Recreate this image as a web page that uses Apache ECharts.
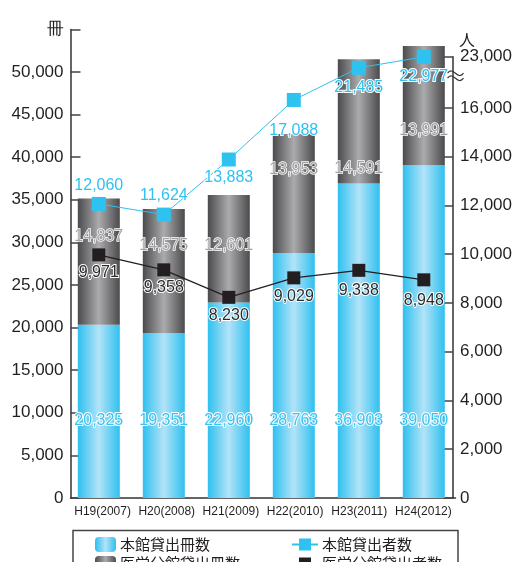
<!DOCTYPE html>
<html>
<head>
<meta charset="utf-8">
<script src="https://cdn.jsdelivr.net/npm/echarts@6/dist/echarts.min.js"></script>
<style>
  html, body { margin: 0; padding: 0; background: #fff; }
  #chart { width: 515px; height: 562px; }
</style>
</head>
<body>
<div id="chart"></div>
<script>
// Fiscal years
const categories = ['H19(2007)', 'H20(2008)', 'H21(2009)', 'H22(2010)', 'H23(2011)', 'H24(2012)'];

// Loans (冊) — stacked bars, left axis
const mainLoans = [20325, 19351, 22960, 28763, 36903, 39050];
const medicalLoans = [14837, 14575, 12601, 13953, 14591, 13991];

// Borrowers (人) — lines, right axis
const mainBorrowers = [12060, 11624, 13883, 17088, 21485, 22977];
const medicalBorrowers = [9971, 9358, 8230, 9029, 9338, 8948];

// Right axis tick labels (axis is broken above 16,000)
const rightTickValues = [0, 2000, 4000, 6000, 8000, 10000, 12000, 14000, 16000, 23000];

// Broken right axis: linear up to BREAK_AT, compressed above it
const BREAK_AT = 16000;
const SQUEEZE = 0.3;
const toAxis = v => v <= BREAK_AT ? v : BREAK_AT + (v - BREAK_AT) * SQUEEZE;
const fromAxis = a => a <= BREAK_AT ? a : Math.round(BREAK_AT + (a - BREAK_AT) / SQUEEZE);
const fmt = v => Math.round(v).toLocaleString('en-US');

// Label nudges (px) so labels clear the lines and markers
const medicalLoanLabelShift = [-25, -25, -3, -24, 47, 25];
const mainBorrowerLabelShift = [-18, -19, 18, 31, 20, 20];
const medicalBorrowerLabelShift = [18, 18, 18, 19, 20, 21];

const W = 515;
const axisLeft = 70.5, axisRight = 59.5;      // visible axes
const plotLeft = 66.3, plotRight = 58.7;      // where the marks sit
const topLeft = 29.4, topRight = 56.7, bottom = 64;

const TEXT = '#231f20';
const NUM_FONT = 'Liberation Sans, Arial, sans-serif';
const JP_FONT = 'Noto Sans CJK JP, sans-serif';

const blueGrad = new echarts.graphic.LinearGradient(0, 0, 1, 0, [
  { offset: 0, color: '#2fc0ef' },
  { offset: 0.5, color: '#b2e3f8' },
  { offset: 1, color: '#2fc0ef' }
]);
const grayGrad = new echarts.graphic.LinearGradient(0, 0, 1, 0, [
  { offset: 0, color: '#4b4b4d' },
  { offset: 0.5, color: '#ababad' },
  { offset: 1, color: '#4b4b4d' }
]);

const axisLineStyle = { color: '#333', width: 1.5 };
const tickStyle = { color: '#444', width: 1.5 };

// One legend per entry, laid out as a 2 x 2 table
const legendEntry = (name, left, top, iconW) => ({
  left: left, top: top, itemWidth: iconW, itemHeight: 15,
  data: [name],
  textStyle: { color: TEXT, fontFamily: JP_FONT, fontSize: 15, padding: [0, 0, 0, -1] }
});

const chart = echarts.init(document.getElementById('chart'), null, { renderer: 'canvas' });

const option = {
  animation: false,
  backgroundColor: '#fff',
  grid: [
    { left: axisLeft, right: axisRight, top: topLeft, bottom: bottom },
    { left: axisLeft, right: axisRight, top: topRight, bottom: bottom },
    { left: plotLeft, right: plotRight, top: topLeft, bottom: bottom },
    { left: plotLeft, right: plotRight, top: topRight, bottom: bottom }
  ],
  xAxis: [
    {
      gridIndex: 0, type: 'category', data: categories, boundaryGap: true,
      axisLine: { lineStyle: axisLineStyle },
      axisTick: { inside: true, length: 8, lineStyle: tickStyle, interval: 0 },
      axisLabel: { color: TEXT, fontFamily: NUM_FONT, fontSize: 12, margin: 8, interval: 0 }
    },
    { gridIndex: 1, type: 'category', data: categories, show: false },
    { gridIndex: 2, type: 'category', data: categories, show: false },
    { gridIndex: 3, type: 'category', data: categories, show: false }
  ],
  yAxis: [
    {
      gridIndex: 0, type: 'value', min: 0, max: 55000, interval: 5000,
      axisLine: { show: true, lineStyle: axisLineStyle },
      axisTick: { show: true, inside: true, length: 10, lineStyle: tickStyle },
      splitLine: { show: false },
      axisLabel: {
        color: TEXT, fontFamily: NUM_FONT, fontSize: 17, margin: 7,
        formatter: v => v === 55000 ? '冊' : fmt(v)
      }
    },
    {
      gridIndex: 1, type: 'value', position: 'right', min: 0, max: toAxis(23000),
      name: '人', nameLocation: 'end', nameGap: 8,
      nameTextStyle: { color: TEXT, fontFamily: JP_FONT, fontSize: 16, align: 'left', padding: [0, 0, 0, 6] },
      axisLine: { show: true, lineStyle: axisLineStyle },
      axisTick: { show: true, inside: true, length: 10, lineStyle: tickStyle, customValues: rightTickValues.map(toAxis) },
      splitLine: { show: false },
      axisLabel: {
        color: TEXT, fontFamily: NUM_FONT, fontSize: 17, margin: 7,
        customValues: rightTickValues.map(toAxis),
        formatter: a => fmt(fromAxis(a))
      }
    },
    { gridIndex: 2, type: 'value', min: 0, max: 55000, show: false },
    { gridIndex: 3, type: 'value', min: 0, max: toAxis(23000), show: false }
  ],
  legend: [
    legendEntry('本館貸出冊数', 90, 532, 21),
    legendEntry('医学分館貸出冊数', 90, 551, 21),
    legendEntry('本館貸出者数', 286, 532, 26),
    legendEntry('医学分館貸出者数', 286, 551, 26)
  ],
  series: [
    {
      name: '本館貸出冊数', type: 'bar', stack: 'loans', xAxisIndex: 2, yAxisIndex: 2,
      barWidth: 42, data: mainLoans,
      itemStyle: { color: blueGrad },
      label: {
        show: true, position: 'insideBottom', distance: 69,
        formatter: p => fmt(p.value),
        color: '#3cc3ef', textBorderColor: '#fff', textBorderWidth: 2,
        fontFamily: NUM_FONT, fontSize: 16
      }
    },
    {
      name: '医学分館貸出冊数', type: 'bar', stack: 'loans', xAxisIndex: 2, yAxisIndex: 2,
      barWidth: 42,
      data: medicalLoans.map((v, i) => ({
        value: v,
        label: { offset: [0, medicalLoanLabelShift[i]] }
      })),
      itemStyle: { color: grayGrad },
      label: {
        show: true, position: 'inside',
        formatter: p => fmt(p.value),
        color: '#a3a3a5', textBorderColor: '#fff', textBorderWidth: 1.4,
        fontFamily: NUM_FONT, fontSize: 16
      }
    },
    {
      name: '本館貸出者数', type: 'line', xAxisIndex: 3, yAxisIndex: 3, z: 5,
      data: mainBorrowers.map((v, i) => ({
        value: toAxis(v),
        label: { offset: [0, mainBorrowerLabelShift[i]] }
      })),
      symbol: 'rect', symbolSize: 14,
      lineStyle: { color: '#2ec2f0', width: 1 },
      itemStyle: { color: '#2ec2f0' },
      label: {
        show: true, position: 'inside',
        formatter: p => fmt(mainBorrowers[p.dataIndex]),
        color: '#2ec2f0', textBorderColor: '#fff', textBorderWidth: 2,
        fontFamily: NUM_FONT, fontSize: 16
      }
    },
    {
      name: '医学分館貸出者数', type: 'line', xAxisIndex: 3, yAxisIndex: 3, z: 5,
      data: medicalBorrowers.map((v, i) => ({
        value: toAxis(v),
        label: { offset: [0, medicalBorrowerLabelShift[i]] }
      })),
      symbol: 'rect', symbolSize: 13,
      lineStyle: { color: '#231f20', width: 1.2 },
      itemStyle: { color: '#231f20' },
      label: {
        show: true, position: 'inside',
        formatter: p => fmt(medicalBorrowers[p.dataIndex]),
        color: '#2b2b2b', textBorderColor: '#fff', textBorderWidth: 2,
        fontFamily: NUM_FONT, fontSize: 16
      }
    }
  ]
};

chart.setOption(option);

// Legend frame and the break mark on the right axis
const breakY = chart.convertToPixel({ yAxisIndex: 1 }, toAxis(20400));
const breakX = W - axisRight;
const wave = dy => ({
  type: 'bezierCurve',
  shape: { x1: -8, y1: dy, x2: 8, y2: dy, cpx1: -2, cpy1: dy - 8, cpx2: 2, cpy2: dy + 8 },
  style: { stroke: '#333', lineWidth: 1.2, fill: null }
});
chart.setOption({
  graphic: [
    {
      type: 'rect', left: axisLeft, top: 528, z: 0,
      shape: { width: W - axisLeft - axisRight, height: 60 },
      style: { fill: null, stroke: '#444', lineWidth: 1.5 }
    },
    {
      type: 'group', x: breakX, y: breakY, z: 100,
      children: [
        { type: 'rect', shape: { x: -3, y: -4, width: 6, height: 8 }, style: { fill: '#fff' } },
        wave(-2.5),
        wave(2.5)
      ]
    }
  ]
});
</script>
</body>
</html>
